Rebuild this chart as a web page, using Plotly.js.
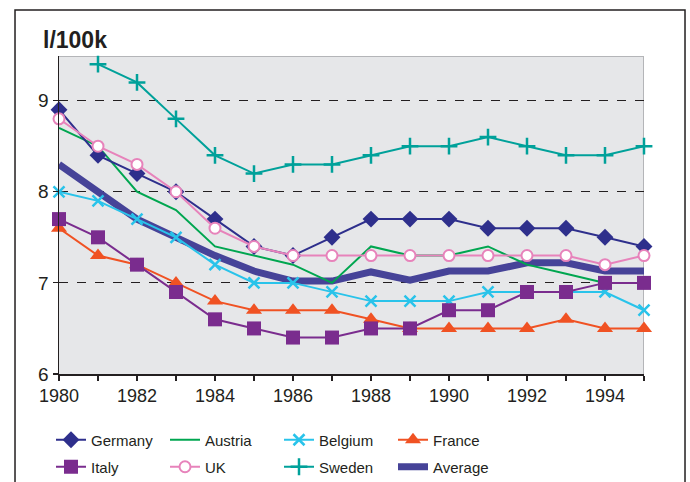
<!DOCTYPE html>
<html><head><meta charset="utf-8">
<script src="https://cdn.plot.ly/plotly-3.0.1.min.js"></script>
<style>html,body{margin:0;padding:0;background:#fff}#chart{width:690px;height:482px}</style>
</head><body><div id="chart"></div>
<script>
const years = [1980,1981,1982,1983,1984,1985,1986,1987,1988,1989,1990,1991,1992,1993,1994,1995];
const germany = [8.9,8.4,8.2,8.0,7.7,7.4,7.3,7.5,7.7,7.7,7.7,7.6,7.6,7.6,7.5,7.4];
const austria = [8.7,8.5,8.0,7.8,7.4,7.3,7.2,7.0,7.4,7.3,7.3,7.4,7.2,7.1,7.0,7.0];
const belgium = [8.0,7.9,7.7,7.5,7.2,7.0,7.0,6.9,6.8,6.8,6.8,6.9,6.9,6.9,6.9,6.7];
const france  = [7.6,7.3,7.2,7.0,6.8,6.7,6.7,6.7,6.6,6.5,6.5,6.5,6.5,6.6,6.5,6.5];
const italy   = [7.7,7.5,7.2,6.9,6.6,6.5,6.4,6.4,6.5,6.5,6.7,6.7,6.9,6.9,7.0,7.0];
const uk      = [8.8,8.5,8.3,8.0,7.6,7.4,7.3,7.3,7.3,7.3,7.3,7.3,7.3,7.3,7.2,7.3];
const sweden  = [null,9.4,9.2,8.8,8.4,8.2,8.3,8.3,8.4,8.5,8.5,8.6,8.5,8.4,8.4,8.5];
const average = [8.3,8.0,7.7,7.5,7.3,7.13,7.02,7.02,7.12,7.03,7.13,7.13,7.22,7.22,7.13,7.13];
const xTickVals = [1980,1982,1984,1986,1988,1990,1992,1994];
const yTickVals = [6,7,8,9];
const xRange = [1980,1995];
const yRange = [6,9.49];

const FONT = '"Liberation Sans", Arial, sans-serif';

function tr(name, y, color, width, marker, rank, leg){
  const t = {x: years, y: y, name: name, type:'scatter', legendrank: rank, legend: leg, cliponaxis:false,
    line:{color:color, width:width}, mode: marker ? 'lines+markers' : 'lines'};
  if (marker) t.marker = marker;
  return t;
}
const data = [
  tr('Average', average, '#464398', 7, null, 8, 'legend2'),
  tr('Austria', austria, '#00a650', 2, null, 2, 'legend'),
  tr('Germany', germany, '#2e2f8c', 2, {symbol:'diamond', size:13, color:'#2e2f8c'}, 1, 'legend'),
  tr('Belgium', belgium, '#29c3ea', 2, {symbol:'x-thin-open', size:11, color:'#29c3ea', line:{width:2.5, color:'#29c3ea'}}, 3, 'legend'),
  tr('France', france, '#f05223', 2, {symbol:'triangle-up', size:14, color:'#f05223'}, 4, 'legend'),
  tr('Italy', italy, '#7a2c8e', 2, {symbol:'square', size:14, color:'#7a2c8e'}, 5, 'legend2'),
  tr('UK', uk, '#e783bb', 2, {symbol:'circle', size:11, color:'#ffffff', line:{width:2, color:'#e783bb'}}, 6, 'legend2'),
  tr('Sweden', sweden, '#00a19a', 2, {symbol:'cross-thin-open', size:12, color:'#00a19a', line:{width:2.5, color:'#00a19a'}}, 7, 'legend2')
];

const legBase = {orientation:'h', xref:'container', yref:'container', x:51/690, xanchor:'left', yanchor:'middle',
    entrywidth:69, entrywidthmode:'pixels', traceorder:'normal',
    font:{size:15, family:FONT, color:'#231f20'}, bgcolor:'rgba(0,0,0,0)'};

const layout = {
  width:690, height:482,
  margin:{l:59, r:46, t:56, b:108},
  paper_bgcolor:'#ffffff', plot_bgcolor:'#e6e7e9',
  showlegend:true,
  font:{family:FONT, color:'#231f20'},
  xaxis:{range:xRange, tickvals:xTickVals, ticktext:xTickVals.map(String),
    showgrid:false, zeroline:false, showline:true, linecolor:'#231f20', linewidth:1.5,
    ticks:'outside', ticklen:5, tickcolor:'#231f20', tickwidth:1.2,
    minor:{tickvals:years, ticks:'outside', ticklen:5, tickcolor:'#231f20', tickwidth:1.2, showgrid:false},
    tickfont:{size:18, family:FONT, color:'#231f20'}},
  yaxis:{range:yRange, tickvals:yTickVals, ticktext:yTickVals.map(String),
    showgrid:true, gridcolor:'#231f20', griddash:'dash', gridwidth:1, zeroline:false,
    showline:true, linecolor:'#231f20', linewidth:1.5,
    ticks:'outside', ticklen:5, tickcolor:'#231f20', tickwidth:1.2,
    tickfont:{size:19, family:FONT, color:'#231f20'}},
  legend: Object.assign({}, legBase, {y:1-440/482}),
  legend2: Object.assign({}, legBase, {y:1-467/482}),
  annotations:[{text:'<b>l/100k</b>', xref:'paper', yref:'paper', x:-0.031, y:1.05,
    xanchor:'left', yanchor:'middle', showarrow:false,
    font:{size:23, family:FONT, color:'#231f20'}}],
  shapes:[
    {type:'rect', xref:'paper', yref:'paper', x0:-0.0752, x1:1.0701, y0:-0.4, y1:1.1447,
     line:{color:'#231f20', width:1.5}, layer:'below'},
    {type:'line', xref:'x', yref:'y', x0:xRange[0], x1:xRange[1], y0:yRange[1], y1:yRange[1], line:{color:'#b4b5b8', width:2}, layer:'below'},
    {type:'line', xref:'x', yref:'y', x0:xRange[1], x1:xRange[1], y0:yRange[0], y1:yRange[1], line:{color:'#b4b5b8', width:2}, layer:'below'}
  ]
};
Plotly.newPlot('chart', data, layout, {displayModeBar:false, staticPlot:true});
</script></body></html>
